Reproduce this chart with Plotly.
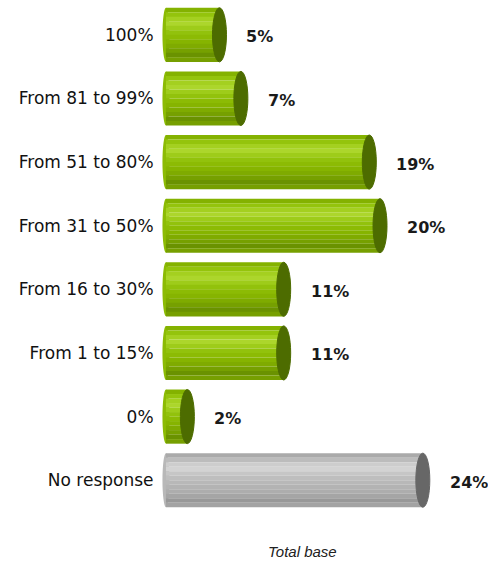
import plotly.graph_objects as go

# Survey answers (top to bottom) and their shares in percent
categories = ["100%", "From 81 to 99%", "From 51 to 80%", "From 31 to 50%",
              "From 16 to 30%", "From 1 to 15%", "0%", "No response"]
values = [5, 7, 19, 20, 11, 11, 2, 24]
value_labels = ["5%", "7%", "19%", "20%", "11%", "11%", "2%", "24%"]
footnote = "Total base"

# Cylinder shading, listed from the top edge of a bar down to its bottom edge
GREEN_STRIPES = ["#84b200", "#94c40c", "#a4d020", "#acd62c", "#9ecc1a", "#92c20c",
                 "#8cbb04", "#86b400", "#7fab00", "#76a000", "#6a9200", "#769f00"]
GRAY_STRIPES = ["#aaaaaa", "#bcbcbc", "#cdcdcd", "#d3d3d3", "#c6c6c6", "#bebebe",
                "#b8b8b8", "#b3b3b3", "#adadad", "#a5a5a5", "#989898", "#a3a3a3"]
GREEN_CAP, GRAY_CAP = "#4d6c00", "#676767"
GREEN_MID, GRAY_MID = "#8cbb04", "#b8b8b8"

BAR_H = 0.85
n = len(GREEN_STRIPES)
is_gray = [c == "No response" for c in categories]

fig = go.Figure()
step = BAR_H / n
for j in range(n):
    colors = [GRAY_STRIPES[j] if g else GREEN_STRIPES[j] for g in is_gray]
    fig.add_trace(go.Bar(
        x=values, y=categories, orientation="h", base=0,
        width=step * 1.02, offset=-BAR_H / 2 + j * step,
        marker=dict(color=colors, line=dict(width=0)),
        hoverinfo="skip", showlegend=False,
    ))

shapes = []
annotations = []
for i, (cat, v, lab, g) in enumerate(zip(categories, values, value_labels, is_gray)):
    # rounded left end of the cylinder
    shapes.append(dict(type="circle", xref="x", yref="y", xsizemode="pixel",
                       xanchor=0, x0=-3.5, x1=3.5,
                       y0=i - BAR_H / 2, y1=i + BAR_H / 2,
                       fillcolor=GRAY_MID if g else GREEN_MID,
                       line=dict(width=0), layer="below"))
    # dark elliptical face at the right end
    shapes.append(dict(type="circle", xref="x", yref="y", xsizemode="pixel",
                       xanchor=v, x0=-7, x1=7,
                       y0=i - BAR_H / 2, y1=i + BAR_H / 2,
                       fillcolor=GRAY_CAP if g else GREEN_CAP,
                       line=dict(width=1, color=GRAY_CAP if g else GREEN_CAP),
                       layer="above"))
    annotations.append(dict(x=v, y=cat, xref="x", yref="y", text=lab,
                            showarrow=False, xanchor="left", xshift=25, yshift=-2,
                            font=dict(family="DejaVu Sans", size=16, color="#1a1a1a",
                                      weight="bold")))

annotations.append(dict(x=0.44, y=-0.077, xref="paper", yref="paper",
                        text="<i>" + footnote + "</i>", showarrow=False,
                        yanchor="middle",
                        font=dict(family="Liberation Sans", size=15, color="#222222")))

fig.update_layout(
    width=488, height=562,
    margin=dict(l=156, r=0, t=3, b=50),
    paper_bgcolor="white", plot_bgcolor="white",
    barmode="overlay",
    shapes=shapes, annotations=annotations,
    xaxis=dict(visible=False, range=[-0.93, 30.09]),
    yaxis=dict(categoryorder="array", categoryarray=categories,
               autorange="reversed", showgrid=False, zeroline=False, showline=False,
               ticks="outside", ticklen=0, ticklabelstandoff=-2,
               tickfont=dict(family="DejaVu Sans", size=17, color="#111111")),
)

fig.write_html("out.html")
